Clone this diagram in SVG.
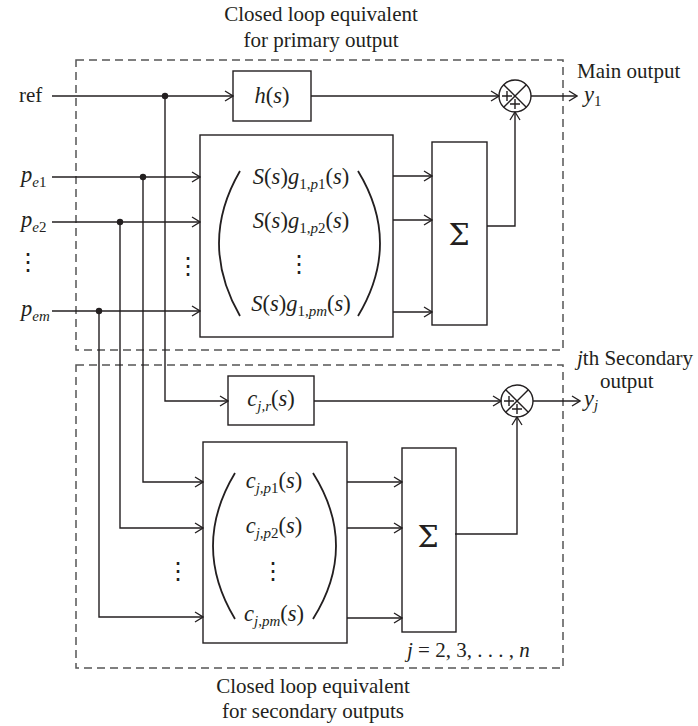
<svg xmlns="http://www.w3.org/2000/svg" width="698" height="726" viewBox="0 0 698 726">
<defs>
<marker id="arr" markerWidth="10" markerHeight="12" refX="9" refY="6" orient="auto" markerUnits="userSpaceOnUse">
<path d="M1,1 L9,6 L1,11" fill="none" stroke="#231f20" stroke-width="1.3"/>
</marker>
<style>
text{font-family:"Liberation Serif","DejaVu Serif",serif;font-size:21px;fill:#231f20}
.m{font-size:22.5px}
.i{font-style:italic}
.c{text-anchor:middle}
.box{fill:none;stroke:#231f20;stroke-width:1.4}
.dash{fill:none;stroke:#555;stroke-width:1.5;stroke-dasharray:8,5}
.ln{fill:none;stroke:#231f20;stroke-width:1.4}
.a{marker-end:url(#arr)}
.par{fill:none;stroke:#231f20;stroke-width:1.8}
.dot{fill:#231f20}
.el{font-family:"DejaVu Serif",serif;font-size:24px}
.sig{font-family:"DejaVu Serif",serif;font-size:30px}
</style>
</defs>
<rect fill="#fff" x="0" y="0" width="698" height="726"/>

<g id="regions">
<rect class="dash" x="76" y="60" width="487" height="290"/>
<rect class="dash" x="76" y="365" width="487" height="303"/>
<text class="c" x="321" y="21">Closed loop equivalent</text>
<text class="c" x="321" y="47">for primary output</text>
<text class="c" x="313" y="693">Closed loop equivalent</text>
<text class="c" x="313" y="718">for secondary outputs</text>
</g>

<g id="connectors">
<path class="ln a" d="M52,96 H233"/>
<path class="ln a" d="M311,96 H499"/>
<path class="ln a" d="M531,96 H577"/>
<path class="ln a" d="M52,177 H200"/>
<path class="ln a" d="M52,222 H200"/>
<path class="ln a" d="M52,311 H200"/>
<path class="ln a" d="M393,176 H432"/>
<path class="ln a" d="M393,220 H432"/>
<path class="ln a" d="M393,312 H432"/>
<path class="ln a" d="M487,226 H515 V112"/>
<path class="ln a" d="M165,96 V401 H228"/>
<path class="ln a" d="M143,177 V482 H203"/>
<path class="ln a" d="M120,222 V528 H203"/>
<path class="ln a" d="M99,311 V617 H203"/>
<path class="ln a" d="M314,401 H501"/>
<path class="ln a" d="M533,401 H580"/>
<path class="ln a" d="M347,482 H402"/>
<path class="ln a" d="M347,528 H402"/>
<path class="ln a" d="M347,618 H402"/>
<path class="ln a" d="M455,534 H517 V417"/>
<circle class="dot" cx="165" cy="96" r="3.2"/>
<circle class="dot" cx="143" cy="177" r="3.2"/>
<circle class="dot" cx="120" cy="222" r="3.2"/>
<circle class="dot" cx="99" cy="311" r="3.2"/>
</g>

<g id="inputs">
<text x="19" y="102">ref</text>
<text class="i m" x="21" y="182">p<tspan dy="5" font-size="15">e</tspan><tspan dy="0" font-size="15" font-style="normal">1</tspan></text>
<text class="i m" x="21" y="227">p<tspan dy="5" font-size="15">e</tspan><tspan dy="0" font-size="15" font-style="normal">2</tspan></text>
<text class="el c" x="28" y="270">⋮</text>
<text class="i m" x="21" y="316">p<tspan dy="5" font-size="15">em</tspan></text>
<text class="el c" x="188" y="274">⋮</text>
<text class="el c" x="178" y="579">⋮</text>
</g>

<g id="h">
<rect class="box" x="233" y="71" width="78" height="50"/>
<text class="c m" x="272" y="103"><tspan class="i">h</tspan>(<tspan class="i">s</tspan>)</text>
</g>

<g id="sum1">
<circle class="box" cx="515" cy="96" r="16"/>
<path class="ln" d="M503.7,84.7 L526.3,107.3 M526.3,84.7 L503.7,107.3" stroke-width="1.2"/>
<path class="ln" d="M502,96 H512 M507,91 V101 M510,104 H520 M515,99 V109" stroke-width="1.2"/>
</g>

<g id="out1">
<text x="577" y="78">Main output</text>
<text class="i m" x="584" y="102">y<tspan dy="4" font-size="15" font-style="normal">1</tspan></text>
</g>

<g id="G1">
<rect class="box" x="200" y="135" width="193" height="202"/>
<path class="par" d="M240,171 Q198,243 240,316"/>
<path class="par" d="M358,171 Q402,243 358,316"/>
<text class="c m" x="301" y="184"><tspan class="i">S</tspan>(<tspan class="i">s</tspan>)<tspan class="i">g</tspan><tspan dy="5" font-size="15">1,<tspan class="i">p</tspan>1</tspan><tspan dy="-5">(</tspan><tspan class="i">s</tspan>)</text>
<text class="c m" x="301" y="228"><tspan class="i">S</tspan>(<tspan class="i">s</tspan>)<tspan class="i">g</tspan><tspan dy="5" font-size="15">1,<tspan class="i">p</tspan>2</tspan><tspan dy="-5">(</tspan><tspan class="i">s</tspan>)</text>
<text class="el c" x="299" y="272">⋮</text>
<text class="c m" x="301" y="311"><tspan class="i">S</tspan>(<tspan class="i">s</tspan>)<tspan class="i">g</tspan><tspan dy="5" font-size="15">1,<tspan class="i">pm</tspan></tspan><tspan dy="-5">(</tspan><tspan class="i">s</tspan>)</text>
</g>

<g id="Sigma1">
<rect class="box" x="432" y="142" width="55" height="183"/>
<text class="c sig" x="459" y="245">Σ</text>
</g>

<g id="cjr">
<rect class="box" x="228" y="376" width="86" height="49"/>
<text class="c m" x="271" y="406"><tspan class="i">c</tspan><tspan dy="5" font-size="15" class="i">j,r</tspan><tspan dy="-5">(</tspan><tspan class="i">s</tspan>)</text>
</g>

<g id="sum2">
<circle class="box" cx="517" cy="401" r="16"/>
<path class="ln" d="M505.7,389.7 L528.3,412.3 M528.3,389.7 L505.7,412.3" stroke-width="1.2"/>
<path class="ln" d="M504,401 H514 M509,396 V406 M512,409 H522 M517,404 V414" stroke-width="1.2"/>
</g>

<g id="outj">
<text x="577" y="365"><tspan class="i">j</tspan>th Secondary</text>
<text x="600" y="388">output</text>
<text class="i m" x="584" y="406">y<tspan dy="4" font-size="15">j</tspan></text>
</g>

<g id="G2">
<rect class="box" x="203" y="442" width="144" height="201"/>
<path class="par" d="M235,473 Q191,546 235,619"/>
<path class="par" d="M313,473 Q359,546 313,619"/>
<text class="c m" x="274" y="488"><tspan class="i">c</tspan><tspan dy="5" font-size="15"><tspan class="i">j,p</tspan>1</tspan><tspan dy="-5">(</tspan><tspan class="i">s</tspan>)</text>
<text class="c m" x="274" y="533"><tspan class="i">c</tspan><tspan dy="5" font-size="15"><tspan class="i">j,p</tspan>2</tspan><tspan dy="-5">(</tspan><tspan class="i">s</tspan>)</text>
<text class="el c" x="273" y="579">⋮</text>
<text class="c m" x="274" y="621"><tspan class="i">c</tspan><tspan dy="5" font-size="15" class="i">j,pm</tspan><tspan dy="-5">(</tspan><tspan class="i">s</tspan>)</text>
</g>

<g id="Sigma2">
<rect class="box" x="402" y="448" width="54" height="184"/>
<text class="c sig" x="428" y="547">Σ</text>
</g>

<g id="jrange">
<text x="407" y="657"><tspan class="i">j</tspan> = 2, 3, . . . , <tspan class="i">n</tspan></text>
</g>
</svg>
